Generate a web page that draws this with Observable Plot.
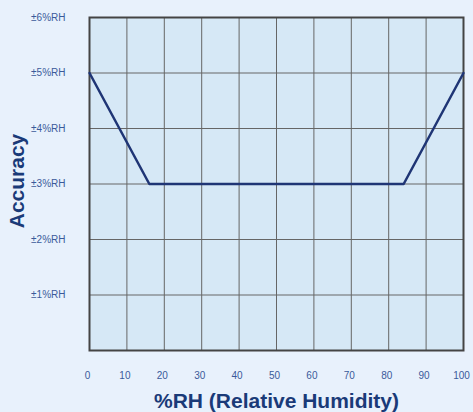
<!DOCTYPE html>
<html>
<head>
<meta charset="utf-8">
<script src="https://cdn.jsdelivr.net/npm/d3@7"></script>
<script src="https://cdn.jsdelivr.net/npm/@observablehq/plot@0.6"></script>
<style>
  html, body { margin: 0; padding: 0; background: #e8f1fc; overflow: hidden; }
  #chart { width: 473px; height: 412px; }
</style>
</head>
<body>
<div id="chart"></div>
<script>
const humidity = [0, 16, 84, 100];
const accuracy = [5, 3, 3, 5];
const xTicks = [0, 10, 20, 30, 40, 50, 60, 70, 80, 90, 100];
const yTicks = [1, 2, 3, 4, 5, 6];
const yTickLabels = ["±1%RH", "±2%RH", "±3%RH", "±4%RH", "±5%RH", "±6%RH"];
const xTitle = "%RH (Relative Humidity)";
const yTitle = "Accuracy";

const data = humidity.map((h, i) => ({h, a: accuracy[i]}));

const chart = Plot.plot({
  width: 473,
  height: 412,
  marginLeft: 89,
  marginRight: 10,
  marginTop: 17,
  marginBottom: 62,
  style: {background: "#e8f1fc", fontFamily: "'Liberation Sans', Arial, sans-serif", fontSize: "10px", overflow: "visible"},
  x: {domain: [0, 100]},
  y: {domain: [0, 6]},
  marks: [
    Plot.frame({fill: "#d6e8f6", stroke: null}),
    Plot.gridX(xTicks, {stroke: "#666", strokeOpacity: 1, strokeWidth: 1}),
    Plot.gridY(yTicks, {stroke: "#666", strokeOpacity: 1, strokeWidth: 1}),
    Plot.frame({stroke: "#444", strokeWidth: 2}),
    Plot.axisX(xTicks, {tickSize: 0, tickPadding: 21, dx: -2, fill: "#3a5a9a", fontSize: 10, label: null}),
    Plot.axisY(yTicks, {tickSize: 0, tickPadding: 24, fill: "#3a5a9a", fontSize: 10, label: null,
      tickFormat: d => yTickLabels[yTicks.indexOf(d)]}),
    Plot.line(data, {x: "h", y: "a", stroke: "#1f3575", strokeWidth: 2.5}),
    Plot.text([xTitle], {frameAnchor: "bottom", dy: 57, fill: "#1a3a78", fontSize: 21, fontWeight: "bold"}),
    Plot.text([yTitle], {frameAnchor: "left", textAnchor: "middle", dx: -72, dy: -3, rotate: -90, fill: "#1a3a78", fontSize: 21, fontWeight: "bold"})
  ]
});
document.getElementById("chart").append(chart);
</script>
</body>
</html>
